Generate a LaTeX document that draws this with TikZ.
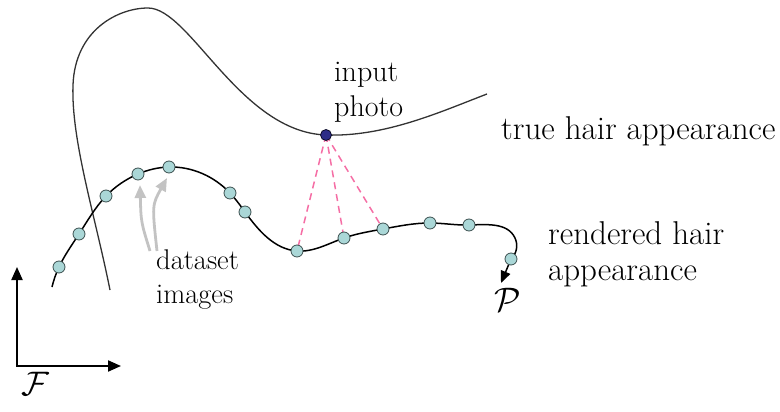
\RequirePackage{fix-cm}
\documentclass[tikz,border=0pt]{standalone}
\usepackage{fontspec}
\usetikzlibrary{arrows.meta,hobby}
\definecolor{dotfill}{RGB}{170,215,215}
\definecolor{dotline}{RGB}{60,80,80}
\definecolor{navy}{RGB}{45,45,135}
\definecolor{pinkd}{RGB}{245,110,165}
\definecolor{lgray}{RGB}{195,195,195}
\tikzset{
  sample/.style={circle,draw=dotline,fill=dotfill,line width=0.8pt,minimum size=12pt,inner sep=0pt},
  photo/.style={circle,draw=black!70!navy,fill=navy,line width=0.8pt,minimum size=11pt,inner sep=0pt},
  lbl/.style={font=\rmfamily\fontsize{30}{35}\selectfont,align=left,inner sep=0pt},
  midlbl/.style={font=\rmfamily\fontsize{28.5}{34}\selectfont,align=left,inner sep=0pt},
  biglbl/.style={font=\rmfamily\fontsize{33}{36}\selectfont,align=left,inner sep=0pt},
  axis/.style={line width=2pt,-{Triangle[length=13pt,width=11pt]}},
  match/.style={pinkd,line width=1.5pt,dash pattern=on 7pt off 5pt},
  pointer/.style={lgray,line width=2.8pt,-{Triangle[length=13pt,width=11pt]}},
  sym/.style={font=\fontsize{34}{38}\selectfont,inner sep=0pt}
}
\begin{document}
\begin{tikzpicture}[x=1pt,y=-1pt]
\useasboundingbox (0,0) rectangle (780,412);
% true hair appearance curve
\coordinate (ip) at (326,135);
\coordinate (t0) at (110,290);
\coordinate (t1) at (73,85);
\coordinate (t2) at (148,8);
\coordinate (t3) at (487,94);
\draw[black!80,line width=1.3pt] (t0) .. controls (95,215) and (71,140) .. (t1)
  .. controls (75,30) and (118,8) .. (t2)
  .. controls (190,8) and (240,132) .. (ip)
  .. controls (385,137) and (440,112) .. (t3);
% rendered curve
\coordinate (s0) at (52,287);
\coordinate (s1) at (59,267);
\coordinate (s2) at (79,234);
\coordinate (s3) at (106,196);
\coordinate (s4) at (138,174);
\coordinate (s5) at (169,167);
\coordinate (s6) at (230,193);
\coordinate (s7) at (245,212);
\coordinate (s8) at (297,251);
\coordinate (s9) at (344,238);
\coordinate (s10) at (383,229);
\coordinate (s11) at (430,223);
\coordinate (s12) at (469,225);
\coordinate (sb) at (515,238);
\coordinate (s13) at (511,259);
\coordinate (pend) at (501,283);
\draw[black,line width=1.5pt,use Hobby shortcut] (s0) .. (s1) .. (s2) .. (s3) .. (s4) .. (s5) .. (s6) .. (s7) .. (s8) .. (s9) .. (s10) .. (s11) .. (s12) .. (sb) .. (s13);
\draw[black,line width=1.5pt,-{Triangle[length=12pt,width=10pt]}] (s13) -- (pend);
% dashed matches
\draw[match] (ip) -- (s8);
\draw[match] (ip) -- (s9);
\draw[match] (ip) -- (s10);
% sample dots
\foreach \n in {s1,s2,s3,s4,s5,s6,s7,s8,s9,s10,s11,s12,s13}
  \node[sample] (d\n) at (\n) {};
\node[photo] (pt) at (ip) {};
% gray pointers
\coordinate (g1) at (150,251);
\coordinate (g2) at (157,251);
\draw[pointer] (g1) .. controls (141,222) .. (140,185);
\draw[pointer] (g2) .. controls (152,205) .. (167,178);
% axes
\coordinate (o) at (17,366);
\coordinate (ytop) at (17,267);
\coordinate (xend) at (121,366);
\draw[axis] (o) -- (ytop);
\draw[axis,line cap=rect] (o) -- (xend);
% labels
\node[lbl,anchor=west] (inp) at (334,92) {input\\photo};
\node[biglbl,anchor=west] (truel) at (501,131) {true hair appearance};
\node[biglbl,anchor=west] (rend) at (548,254) {rendered hair\\appearance};
\node[midlbl,anchor=west] (data) at (156,280) {dataset\\images};
\node[sym] (P) at (508,300) {$\mathcal{P}$};
\node[sym] (F) at (35,384) {$\mathcal{F}$};
\end{tikzpicture}
\end{document}
